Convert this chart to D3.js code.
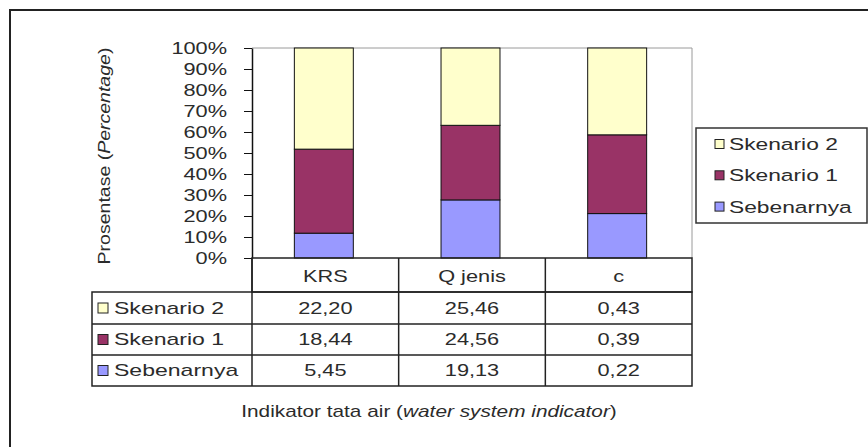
<!DOCTYPE html>
<html><head><meta charset="utf-8">
<script src="https://cdn.jsdelivr.net/npm/d3@7"></script>
<style>
html,body{margin:0;padding:0;background:#fff;}
svg{display:block;font-family:"Liberation Sans",Arial,sans-serif;}
</style></head>
<body>
<svg id="chart" width="868" height="447"></svg>
<script>
// ---- data ----
const categories = ["KRS", "Q jenis", "c"];
const seriesNames = ["Sebenarnya", "Skenario 1", "Skenario 2"];
const sebenarnya = [5.45, 19.13, 0.22];
const skenario1 = [18.44, 24.56, 0.39];
const skenario2 = [22.20, 25.46, 0.43];
const seriesColors = ["#9999FF", "#993366", "#FFFFCC"];
const yTicks = [0, 0.1, 0.2, 0.3, 0.4, 0.5, 0.6, 0.7, 0.8, 0.9, 1.0];
const yTitle = ["Prosentase (", "Percentage", ")"];
const xTitle = ["Indikator tata air (", "water system indicator", ")"];

// ---- layout ----
const W = 868, H = 447;
const plotL = 252, plotR = 692, plotT = 48, plotB = 258;
const tableL = 92;
const rowEdges = [258, 292, 324, 355, 386];
const SX = 1.36;      // horizontal text stretch
const FS = 16;
const textColor = "#2b2b2b";

const svg = d3.select("#chart");
const fmt = d3.formatLocale({decimal: ",", thousands: ".", grouping: [3], currency: ["", ""]}).format(".2f");

// outer chart border
svg.append("rect").attr("x", 10).attr("y", 10).attr("width", W).attr("height", H)
  .attr("fill", "none").attr("stroke", "#222").attr("stroke-width", 2);

const x = d3.scaleBand().domain(categories).range([plotL, plotR]).padding(0);
const y = d3.scaleLinear().domain([0, 1]).range([plotB, plotT]);

const rows = categories.map((c, i) => ({
  cat: c, "Sebenarnya": sebenarnya[i], "Skenario 1": skenario1[i], "Skenario 2": skenario2[i]
}));
const stack = d3.stack().keys(seriesNames).offset(d3.stackOffsetExpand);
const layers = stack(rows);
const color = d3.scaleOrdinal().domain(seriesNames).range(seriesColors);

function stext(sel, px, py, anchor, parts, opts = {}) {
  const t = sel.append("text")
    .attr("transform", `translate(${px},${py}) ${opts.rotate ? "rotate(-90)" : ""} scale(${opts.sx || SX},1)`)
    .attr("text-anchor", anchor)
    .attr("dy", "0.36em")
    .attr("font-size", opts.fs || FS)
    .attr("fill", textColor);
  parts.forEach((p, i) => {
    t.append("tspan").text(p).attr("font-style", (opts.italicIdx === i) ? "italic" : "normal");
  });
  return t;
}

// plot area border (gray)
svg.append("path")
  .attr("d", `M${plotL},${plotT}H${plotR}V${plotB}`)
  .attr("fill", "none").attr("stroke", "#9a9a9a").attr("stroke-width", 1);

// bars
const barW = x.bandwidth() * 0.402;
svg.append("g").selectAll("g").data(layers).join("g")
  .attr("fill", d => color(d.key))
  .selectAll("rect").data(d => d).join("rect")
  .attr("x", d => x(d.data.cat) + x.bandwidth() / 2 - barW / 2 - 1.5)
  .attr("y", d => y(d[1]))
  .attr("width", barW)
  .attr("height", d => y(d[0]) - y(d[1]))
  .attr("stroke", "#111").attr("stroke-width", 1);

// y axis
const yAxis = svg.append("g").attr("transform", `translate(${plotL},0)`)
  .call(d3.axisLeft(y).tickValues(yTicks).tickFormat(d3.format(".0%")).tickSize(8).tickSizeOuter(0));
yAxis.select(".domain").attr("stroke", "#111").attr("stroke-width", 1.5);
yAxis.selectAll(".tick line").attr("stroke", "#111");
yAxis.selectAll(".tick text")
  .attr("x", null).attr("dy", "0.36em")
  .attr("transform", `translate(-25,0) scale(${SX},1)`)
  .attr("font-size", FS).attr("font-family", "Liberation Sans, Arial, sans-serif")
  .attr("fill", textColor);

// y title
stext(svg, 104, 156, "middle", yTitle, {rotate: true, sx: 1.22, italicIdx: 1});

// data table
const tbl = svg.append("g");
const lineC = "#222";
tbl.append("rect").attr("x", plotL).attr("y", rowEdges[0]).attr("width", plotR - plotL)
  .attr("height", rowEdges[1] - rowEdges[0]).attr("fill", "none").attr("stroke", lineC).attr("stroke-width", 1.5);
tbl.append("rect").attr("x", tableL).attr("y", rowEdges[1]).attr("width", plotR - tableL)
  .attr("height", rowEdges[4] - rowEdges[1]).attr("fill", "none").attr("stroke", lineC).attr("stroke-width", 1.5);
[rowEdges[2], rowEdges[3]].forEach(ry => {
  tbl.append("line").attr("x1", tableL).attr("x2", plotR).attr("y1", ry).attr("y2", ry)
    .attr("stroke", lineC).attr("stroke-width", 1.5);
});
categories.forEach((c, i) => {
  const cx = x(c);
  tbl.append("line").attr("x1", cx).attr("x2", cx).attr("y1", rowEdges[0]).attr("y2", rowEdges[4])
    .attr("stroke", lineC).attr("stroke-width", 1.5);
  stext(tbl, cx + x.bandwidth() / 2, (rowEdges[0] + rowEdges[1]) / 2 + 1, "middle", [c]);
});
const tableOrder = [
  {name: "Skenario 2", vals: skenario2},
  {name: "Skenario 1", vals: skenario1},
  {name: "Sebenarnya", vals: sebenarnya}
];
tableOrder.forEach((r, ri) => {
  const cy = (rowEdges[ri + 1] + rowEdges[ri + 2]) / 2;
  tbl.append("rect").attr("x", 98).attr("y", cy - 5).attr("width", 10).attr("height", 10)
    .attr("fill", color(r.name)).attr("stroke", "#222").attr("stroke-width", 1);
  stext(tbl, 114, cy, "start", [r.name], {sx: 1.44});
  r.vals.forEach((v, ci) => {
    stext(tbl, x(categories[ci]) + x.bandwidth() / 2, cy, "middle", [fmt(v)]);
  });
});

// x title
stext(svg, 429, 411, "middle", xTitle, {italicIdx: 1, sx: 1.3});

// legend
const leg = svg.append("g");
leg.append("rect").attr("x", 696).attr("y", 128).attr("width", 171).attr("height", 95)
  .attr("fill", "#fff").attr("stroke", "#333").attr("stroke-width", 1.5);
const legOrder = ["Skenario 2", "Skenario 1", "Sebenarnya"];
legOrder.forEach((n, i) => {
  const cy = 144 + i * 31.3;
  leg.append("rect").attr("x", 715).attr("y", cy - 4.5).attr("width", 9).attr("height", 9)
    .attr("fill", color(n)).attr("stroke", "#222").attr("stroke-width", 1);
  stext(leg, 729, cy, "start", [n], {sx: 1.34, fs: 17});
});
</script>
</body></html>
